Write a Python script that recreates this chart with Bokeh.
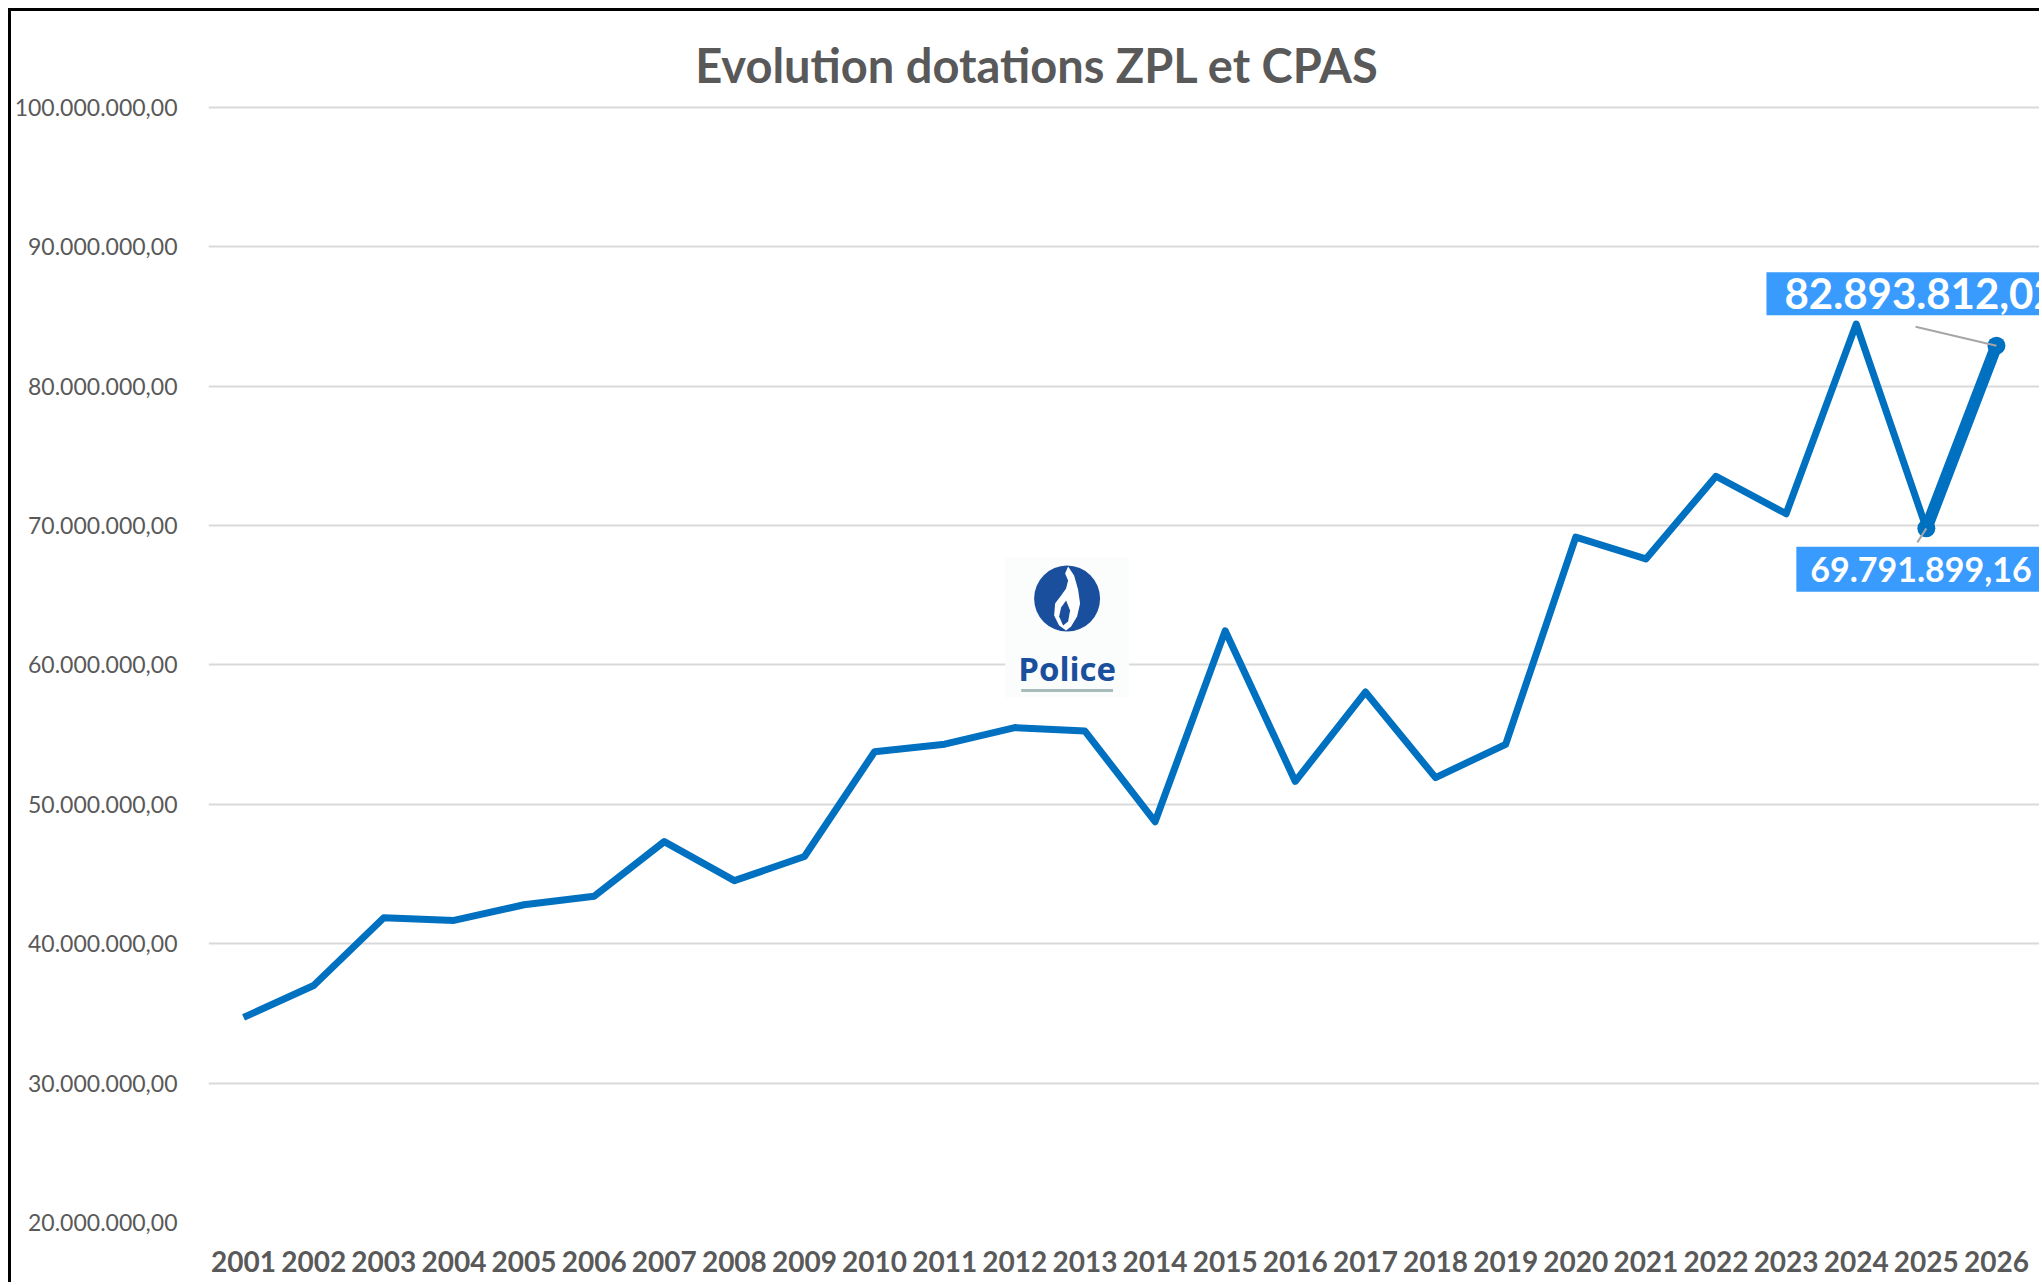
from bokeh.plotting import figure
from bokeh.models import Range1d, FixedTicker, Label
from bokeh.embed import file_html
from bokeh.resources import INLINE
from bokeh.core.properties import value

# ---------------- data ----------------
years = list(range(2001, 2027))
dotations = [34.71e6, 37.00e6, 41.86e6, 41.67e6, 42.79e6, 43.40e6, 47.32e6, 44.52e6,
             46.25e6, 53.77e6, 54.31e6, 55.50e6, 55.25e6, 48.75e6, 62.44e6, 51.64e6,
             58.05e6, 51.91e6, 54.30e6, 69.16e6, 67.60e6, 73.53e6, 70.84e6, 84.45e6,
             69791899.16, 82893812.02]
y_ticks = [20e6, 30e6, 40e6, 50e6, 60e6, 70e6, 80e6, 90e6, 100e6]
title_text = "Evolution dotations ZPL et CPAS"
logo_text = "Police"
highlight_idx = [24, 25]


def fmt_be(v):
    s = f"{v:,.2f}"
    return s.replace(",", "X").replace(".", ",").replace("X", ".")


LINE = "#0070C0"
GREY = "#595959"
BOX = "#3A9BFF"
FONT = "Lato"
LOGO_BLUE = "#1A4F9E"

# layout helpers (pixels)
PX_X = 70.24          # px per year
PX_Y = 13.94 / 1e6    # px per euro
TOP_EXTRA = 95.7      # px between canvas top and 100M grid line
RIGHT_EXTRA = 11      # px between last category edge and canvas right
X0_PX = 240           # page x of first category

x_lo, x_hi = years[0] - 0.5, years[-1] + 0.5
y_lo, y_hi = y_ticks[0], y_ticks[-1]

p = figure(width=2031, height=1274, output_backend="svg", toolbar_location=None,
           x_range=Range1d(x_lo, x_hi + RIGHT_EXTRA / PX_X),
           y_range=Range1d(y_lo, y_hi + TOP_EXTRA / PX_Y),
           min_border_left=194, min_border_right=0, min_border_top=0,
           min_border_bottom=63)
p.styles = {"margin-left": "8px", "margin-top": "8px",
            "border-left": "3px solid black", "border-top": "3px solid black"}
p.outline_line_color = None
p.background_fill_color = "white"
p.border_fill_color = "white"

# axes
p.xaxis.ticker = FixedTicker(ticks=years)
p.xaxis.major_label_overrides = {y: str(y) for y in years}
p.xaxis.major_label_text_font = FONT
p.xaxis.major_label_text_font_style = "bold"
p.xaxis.major_label_text_font_size = "28px"
p.xaxis.major_label_text_color = GREY
p.xaxis.major_label_standoff = 22
p.xaxis.axis_line_color = None
p.xaxis.major_tick_line_color = None
p.xaxis.minor_tick_line_color = None

p.yaxis.ticker = FixedTicker(ticks=y_ticks)
p.yaxis.major_label_overrides = {t: fmt_be(t) for t in y_ticks}
p.yaxis.major_label_text_font = FONT
p.yaxis.major_label_text_font_size = "23px"
p.yaxis.major_label_text_color = GREY
p.yaxis.major_label_standoff = 25
p.yaxis.axis_line_color = None
p.yaxis.major_tick_line_color = None
p.yaxis.minor_tick_line_color = None

p.xgrid.grid_line_color = None
p.ygrid.grid_line_color = "#D9D9D9"
p.ygrid.grid_line_width = 2
p.ygrid.bounds = (x_lo, x_hi)

# title
cx_title = years[0] + (1035 - X0_PX) / PX_X
p.add_layout(Label(x=cx_title, y=y_hi + 42 / PX_Y, text=title_text,
                   text_align="center", text_baseline="middle",
                   text_font=FONT, text_font_style="bold",
                   text_font_size="47px", text_color=GREY))

# logo
lx = years[0] + (1065 - X0_PX) / PX_X
ly_circle = y_hi - (598 - 106.7) / PX_Y
ly_box = y_hi - (627 - 106.7) / PX_Y
ly_text = y_hi - (668 - 106.7) / PX_Y
ly_under = y_hi - (690 - 106.7) / PX_Y
p.rect(x=[lx], y=[ly_box], width=124, height=140, width_units="screen",
       height_units="screen", fill_color="#FBFCFC", line_color=None)
p.scatter(x=[lx], y=[ly_circle], size=66, marker="circle", fill_color=LOGO_BLUE,
          line_color=None)
flame = [(1, 32), (7, 23), (11, 9), (13, -5), (10, -18), (4, -28), (-1, -32), (-8, -27),
         (-13, -17), (-12, -5), (-6, 3), (-1, 10), (1, 18), (-2, 25)]
p.patch(x=[lx + dx / PX_X for dx, dy in flame], y=[ly_circle + dy / PX_Y for dx, dy in flame],
        fill_color="white", line_color=None)
tongue = [(-4, -27), (-8, -18), (-6, -9), (-1, -2), (3, -12), (1, -23)]
p.patch(x=[lx + dx / PX_X for dx, dy in tongue], y=[ly_circle + dy / PX_Y for dx, dy in tongue],
        fill_color=LOGO_BLUE, line_color=None)
p.text(x=[lx], y=[ly_text], text=[logo_text], text_align="center", text_baseline="middle",
       text_font=value("Open Sans"), text_font_style="bold", text_font_size="33px",
       text_color=LOGO_BLUE)
p.segment(x0=[lx - 46 / PX_X], y0=[ly_under], x1=[lx + 46 / PX_X], y1=[ly_under],
          line_color="#A9BCBC", line_width=3)

# main line
p.line(years, dotations, line_color=LINE, line_width=7, line_join="round")
hx = [years[i] for i in highlight_idx]
hy = [dotations[i] for i in highlight_idx]
p.line(hx, hy, line_color=LINE, line_width=12, line_cap="round")
p.scatter(hx, hy, size=18, marker="circle", fill_color=LINE, line_color=None)

# leader lines
p.segment(x0=[hx[1] - 81 / PX_X], y0=[hy[1] + 19 / PX_Y], x1=[hx[1]], y1=[hy[1]],
          line_color="#A6A6A6", line_width=2)
p.segment(x0=[hx[0]], y0=[hy[0]], x1=[hx[0] - 9 / PX_X], y1=[hy[0] - 14 / PX_Y],
          line_color="#A6A6A6", line_width=2)

# data labels
p.add_layout(Label(x=hx[1], y=hy[1], x_offset=-230, y_offset=52, text=fmt_be(hy[1]),
                   text_align="left", text_baseline="middle", text_font=FONT,
                   text_font_style="bold", text_font_size="42px", text_color="white",
                   background_fill_color=BOX, padding=(18, 6)))
p.add_layout(Label(x=hx[0], y=hy[0], x_offset=-130, y_offset=-41, text=fmt_be(hy[0]),
                   text_align="left", text_baseline="middle", text_font=FONT,
                   text_font_style="bold", text_font_size="34px", text_color="white",
                   background_fill_color=BOX, padding=(14, 10)))

open("out.html", "w").write(file_html(p, INLINE))
